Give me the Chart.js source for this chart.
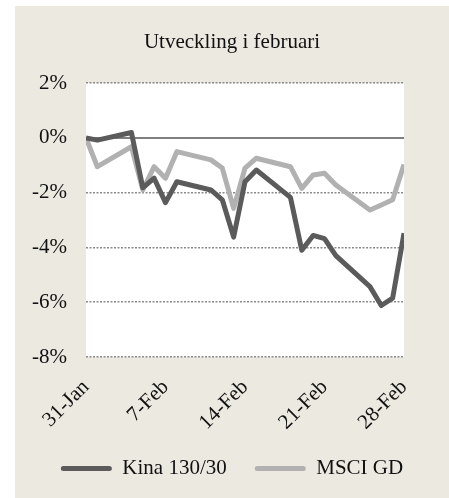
<!DOCTYPE html>
<html><head><meta charset="utf-8">
<script src="https://cdn.jsdelivr.net/npm/chart.js@4/dist/chart.umd.min.js"></script>
<style>
html,body{margin:0;padding:0;background:#fff;}
#wrap{position:absolute;left:15px;top:6px;width:434px;height:492px;background:#ECE9E0;overflow:hidden;}
</style>
</head><body>
<div id="wrap"><canvas id="c" width="434" height="492"></canvas></div>
<script>
const dates = ['2013-01-31','2013-02-01','2013-02-04','2013-02-05','2013-02-06','2013-02-07','2013-02-08',
  '2013-02-11','2013-02-12','2013-02-13','2013-02-14','2013-02-15',
  '2013-02-18','2013-02-19','2013-02-20','2013-02-21','2013-02-22',
  '2013-02-25','2013-02-26','2013-02-27','2013-02-28'];
const kina = [0, -0.08, 0.2, -1.82, -1.47, -2.36, -1.6,
  -1.9, -2.26, -3.62, -1.6, -1.17,
  -2.17, -4.1, -3.56, -3.68, -4.3,
  -5.43, -6.12, -5.85, -3.48];
const msci = [0, -1.05, -0.32, -1.9, -1.05, -1.47, -0.5,
  -0.8, -1.1, -2.57, -1.1, -0.74,
  -1.05, -1.84, -1.35, -1.29, -1.72,
  -2.63, -2.45, -2.26, -0.97];
const tickLabels = ['31-Jan','7-Feb','14-Feb','21-Feb','28-Feb'];
const seriesNames = ['Kina 130/30','MSCI GD'];
const title = 'Utveckling i februari';

const DAY = 86400000;
const t0 = Date.parse(dates[0]);
const dayOf = d => Math.round((Date.parse(d) - t0) / DAY);
const toPts = vals => vals.map((v, i) => ({x: dayOf(dates[i]), y: v}));
const lastDay = dayOf(dates[dates.length - 1]);

const FONT = "'Liberation Serif', 'Times New Roman', serif";

const bgPlugin = {
  id: 'bg',
  beforeDraw(chart) {
    const {ctx, chartArea: a} = chart;
    ctx.save();
    ctx.fillStyle = '#ffffff';
    ctx.fillRect(a.left, a.top, a.right - a.left, a.bottom - a.top);
    ctx.restore();
  },
  beforeDatasetsDraw(chart) {
    const {ctx, chartArea: a, scales} = chart;
    const y = scales.y.getPixelForValue(0);
    ctx.save();
    ctx.strokeStyle = '#808080';
    ctx.lineWidth = 2;
    ctx.beginPath();
    ctx.moveTo(a.left, y);
    ctx.lineTo(a.right, y);
    ctx.stroke();
    ctx.restore();
  }
};

new Chart(document.getElementById('c'), {
  type: 'line',
  data: {
    datasets: [
      {label: seriesNames[0], data: toPts(kina), borderColor: '#5b5b5b', backgroundColor: '#5b5b5b',
       borderWidth: 5, pointRadius: 0, tension: 0, borderJoinStyle: 'round', borderCapStyle: 'butt'},
      {label: seriesNames[1], data: toPts(msci), borderColor: '#b1b1b1', backgroundColor: '#b1b1b1',
       borderWidth: 5, pointRadius: 0, tension: 0, borderJoinStyle: 'round', borderCapStyle: 'butt'}
    ]
  },
  options: {
    responsive: false,
    animation: false,
    devicePixelRatio: 1,
    layout: {padding: {left: 0, right: 0, top: 0, bottom: 9}},
    plugins: {
      title: {display: true, text: title, color: '#111', font: {family: FONT, size: 21, weight: 'normal'},
              padding: {top: 24, bottom: 28}},
      legend: {
        position: 'bottom',
        labels: {
          color: '#111', font: {family: FONT, size: 21}, boxWidth: 51, boxHeight: 5, padding: 28,
          useBorderRadius: true, borderRadius: 2.5,
          generateLabels(chart) {
            return Chart.defaults.plugins.legend.labels.generateLabels(chart).map(l => Object.assign(l, {lineWidth: 0}));
          }
        }
      },
      tooltip: {enabled: false}
    },
    scales: {
      x: {
        type: 'linear', min: 0, max: lastDay,
        grid: {display: false, drawTicks: false},
        border: {display: false},
        afterFit(s) { s.height = 73; },
        afterBuildTicks(s) { s.ticks = tickLabels.map((_, i) => ({value: i * 7})); },
        ticks: {
          minRotation: 45, maxRotation: 45, padding: 18, color: '#111',
          font: {family: FONT, size: 21},
          callback: v => tickLabels[Math.round(v / 7)]
        }
      },
      y: {
        min: -8, max: 2,
        afterFit(s) { s.width = 71; },
        grid: {drawTicks: false, lineWidth: 1.5, color: c => c.tick && c.tick.value === 0 ? 'rgba(0,0,0,0)' : '#8a8a8a'},
        border: {display: false, dash: [2, 1.5]},
        ticks: {stepSize: 2, padding: 19, color: '#111', font: {family: FONT, size: 21},
                callback: v => v + '%'}
      },
      yR: {
        position: 'right', display: true, min: -8, max: 2,
        afterFit(s) { s.width = 45; },
        grid: {display: false, drawTicks: false},
        border: {display: false},
        ticks: {display: false}
      }
    }
  },
  plugins: [bgPlugin]
});
</script>
</body></html>
